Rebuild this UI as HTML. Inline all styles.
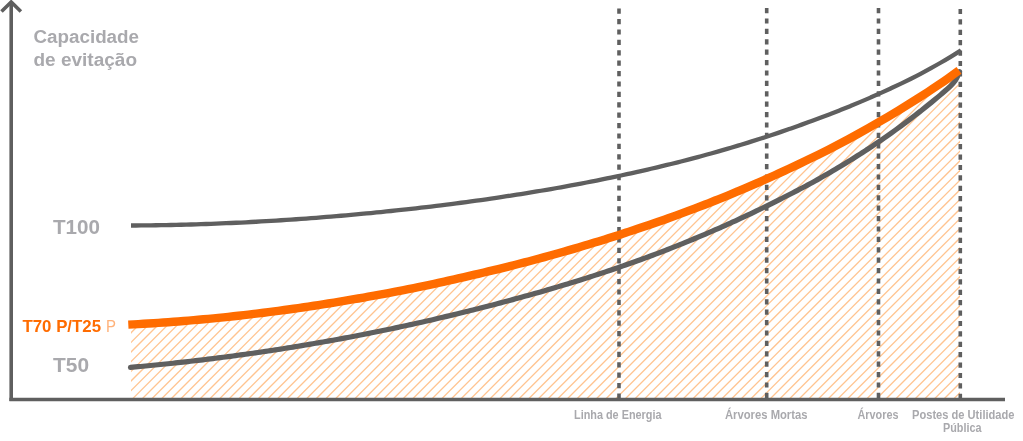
<!DOCTYPE html>
<html><head><meta charset="utf-8">
<style>
html,body{margin:0;padding:0;background:#fff;width:1023px;height:441px;overflow:hidden}
svg{display:block}
.lab{font-family:"Liberation Sans",sans-serif;font-weight:bold;fill:#a9a9ad}
</style></head><body>
<svg width="1023" height="441" viewBox="0 0 1023 441">
<defs>
<clipPath id="under"><path d="M131.00,324.47 C134.33,324.31 137.67,324.13 141.00,323.94 C144.33,323.76 147.67,323.56 151.00,323.36 C154.33,323.15 157.67,322.93 161.00,322.70 C164.33,322.48 167.67,322.24 171.00,321.99 C174.33,321.75 177.67,321.49 181.00,321.22 C184.33,320.96 187.67,320.68 191.00,320.40 C194.33,320.11 197.67,319.82 201.00,319.52 C204.33,319.21 207.67,318.90 211.00,318.58 C214.33,318.26 217.67,317.93 221.00,317.59 C224.33,317.25 227.67,316.90 231.00,316.54 C234.33,316.18 237.67,315.81 241.00,315.43 C244.33,315.06 247.67,314.67 251.00,314.27 C254.33,313.88 257.67,313.47 261.00,313.06 C264.33,312.64 267.67,312.22 271.00,311.79 C274.33,311.36 277.67,310.92 281.00,310.47 C284.33,310.02 287.67,309.57 291.00,309.10 C294.33,308.63 297.67,308.16 301.00,307.68 C304.33,307.19 307.67,306.70 311.00,306.20 C314.33,305.70 317.67,305.19 321.00,304.67 C324.33,304.15 327.67,303.62 331.00,303.08 C334.33,302.54 337.67,302.00 341.00,301.44 C344.33,300.89 347.67,300.32 351.00,299.75 C354.33,299.18 357.67,298.60 361.00,298.01 C364.33,297.43 367.67,296.83 371.00,296.23 C374.33,295.62 377.67,295.01 381.00,294.39 C384.33,293.77 387.67,293.14 391.00,292.51 C394.33,291.87 397.67,291.23 401.00,290.57 C404.33,289.92 407.67,289.26 411.00,288.59 C414.33,287.92 417.67,287.24 421.00,286.55 C424.33,285.86 427.67,285.16 431.00,284.45 C434.33,283.74 437.67,283.02 441.00,282.29 C444.33,281.57 447.67,280.83 451.00,280.09 C454.33,279.34 457.67,278.59 461.00,277.83 C464.33,277.07 467.67,276.30 471.00,275.52 C474.33,274.75 477.67,273.96 481.00,273.18 C484.33,272.39 487.67,271.60 491.00,270.81 C494.33,270.02 497.67,269.22 501.00,268.40 C504.33,267.59 507.67,266.76 511.00,265.92 C514.33,265.07 517.67,264.22 521.00,263.35 C524.33,262.49 527.67,261.61 531.00,260.72 C534.33,259.84 537.67,258.94 541.00,258.03 C544.33,257.13 547.67,256.21 551.00,255.28 C554.33,254.36 557.67,253.42 561.00,252.47 C564.33,251.52 567.67,250.57 571.00,249.60 C574.33,248.63 577.67,247.65 581.00,246.66 C584.33,245.67 587.67,244.67 591.00,243.66 C594.33,242.65 597.67,241.62 601.00,240.59 C604.33,239.56 607.67,238.51 611.00,237.46 C614.33,236.40 617.67,235.34 621.00,234.26 C624.33,233.18 627.67,232.09 631.00,231.00 C634.33,229.90 637.67,228.80 641.00,227.69 C644.33,226.58 647.67,225.46 651.00,224.33 C654.33,223.19 657.67,222.04 661.00,220.86 C664.33,219.69 667.67,218.50 671.00,217.30 C674.33,216.10 677.67,214.88 681.00,213.66 C684.33,212.43 687.67,211.19 691.00,209.93 C694.33,208.68 697.67,207.41 701.00,206.12 C704.33,204.84 707.67,203.54 711.00,202.23 C714.33,200.91 717.67,199.59 721.00,198.24 C724.33,196.90 727.67,195.54 731.00,194.17 C734.33,192.80 737.67,191.41 741.00,190.01 C744.33,188.60 747.67,187.18 751.00,185.75 C754.33,184.31 757.67,182.86 761.00,181.39 C764.33,179.92 767.67,178.43 771.00,176.93 C774.33,175.43 777.67,173.92 781.00,172.39 C784.33,170.87 787.67,169.33 791.00,167.77 C794.33,166.21 797.67,164.63 801.00,163.04 C804.33,161.45 807.67,159.84 811.00,158.22 C814.33,156.60 817.67,154.96 821.00,153.30 C824.33,151.64 827.67,149.97 831.00,148.27 C834.33,146.57 837.67,144.85 841.00,143.10 C844.33,141.35 847.67,139.57 851.00,137.76 C854.33,135.96 857.67,134.12 861.00,132.26 C864.33,130.41 867.67,128.52 871.00,126.62 C874.33,124.71 877.67,122.79 881.00,120.84 C884.33,118.90 887.67,116.94 891.00,114.95 C894.33,112.96 897.67,110.95 901.00,108.92 C904.33,106.89 907.67,104.83 911.00,102.75 C914.33,100.66 917.67,98.56 921.00,96.42 C924.33,94.29 927.67,92.13 931.00,89.94 C934.33,87.75 937.67,85.54 941.00,83.28 C944.33,81.02 947.67,78.67 951.00,76.28 C953.67,74.36 956.33,72.40 959.00,70.43 L960,70.43 L960,399.5 L131,399.5 Z"/></clipPath>
</defs>
<g clip-path="url(#under)" stroke="#ffc490" stroke-width="1.3">
<line x1="-235.81" y1="400" x2="124.19" y2="40"/>
<line x1="-226.14" y1="400" x2="133.86" y2="40"/>
<line x1="-216.48" y1="400" x2="143.52" y2="40"/>
<line x1="-206.82" y1="400" x2="153.18" y2="40"/>
<line x1="-197.16" y1="400" x2="162.84" y2="40"/>
<line x1="-187.50" y1="400" x2="172.50" y2="40"/>
<line x1="-177.83" y1="400" x2="182.17" y2="40"/>
<line x1="-168.17" y1="400" x2="191.83" y2="40"/>
<line x1="-158.51" y1="400" x2="201.49" y2="40"/>
<line x1="-148.85" y1="400" x2="211.15" y2="40"/>
<line x1="-139.19" y1="400" x2="220.81" y2="40"/>
<line x1="-129.52" y1="400" x2="230.48" y2="40"/>
<line x1="-119.86" y1="400" x2="240.14" y2="40"/>
<line x1="-110.20" y1="400" x2="249.80" y2="40"/>
<line x1="-100.54" y1="400" x2="259.46" y2="40"/>
<line x1="-90.88" y1="400" x2="269.12" y2="40"/>
<line x1="-81.21" y1="400" x2="278.79" y2="40"/>
<line x1="-71.55" y1="400" x2="288.45" y2="40"/>
<line x1="-61.89" y1="400" x2="298.11" y2="40"/>
<line x1="-52.23" y1="400" x2="307.77" y2="40"/>
<line x1="-42.57" y1="400" x2="317.43" y2="40"/>
<line x1="-32.90" y1="400" x2="327.10" y2="40"/>
<line x1="-23.24" y1="400" x2="336.76" y2="40"/>
<line x1="-13.58" y1="400" x2="346.42" y2="40"/>
<line x1="-3.92" y1="400" x2="356.08" y2="40"/>
<line x1="5.74" y1="400" x2="365.74" y2="40"/>
<line x1="15.41" y1="400" x2="375.41" y2="40"/>
<line x1="25.07" y1="400" x2="385.07" y2="40"/>
<line x1="34.73" y1="400" x2="394.73" y2="40"/>
<line x1="44.39" y1="400" x2="404.39" y2="40"/>
<line x1="54.05" y1="400" x2="414.05" y2="40"/>
<line x1="63.72" y1="400" x2="423.72" y2="40"/>
<line x1="73.38" y1="400" x2="433.38" y2="40"/>
<line x1="83.04" y1="400" x2="443.04" y2="40"/>
<line x1="92.70" y1="400" x2="452.70" y2="40"/>
<line x1="102.36" y1="400" x2="462.36" y2="40"/>
<line x1="112.03" y1="400" x2="472.03" y2="40"/>
<line x1="121.69" y1="400" x2="481.69" y2="40"/>
<line x1="131.35" y1="400" x2="491.35" y2="40"/>
<line x1="141.01" y1="400" x2="501.01" y2="40"/>
<line x1="150.67" y1="400" x2="510.67" y2="40"/>
<line x1="160.34" y1="400" x2="520.34" y2="40"/>
<line x1="170.00" y1="400" x2="530.00" y2="40"/>
<line x1="179.66" y1="400" x2="539.66" y2="40"/>
<line x1="189.32" y1="400" x2="549.32" y2="40"/>
<line x1="198.98" y1="400" x2="558.98" y2="40"/>
<line x1="208.65" y1="400" x2="568.65" y2="40"/>
<line x1="218.31" y1="400" x2="578.31" y2="40"/>
<line x1="227.97" y1="400" x2="587.97" y2="40"/>
<line x1="237.63" y1="400" x2="597.63" y2="40"/>
<line x1="247.29" y1="400" x2="607.29" y2="40"/>
<line x1="256.96" y1="400" x2="616.96" y2="40"/>
<line x1="266.62" y1="400" x2="626.62" y2="40"/>
<line x1="276.28" y1="400" x2="636.28" y2="40"/>
<line x1="285.94" y1="400" x2="645.94" y2="40"/>
<line x1="295.60" y1="400" x2="655.60" y2="40"/>
<line x1="305.27" y1="400" x2="665.27" y2="40"/>
<line x1="314.93" y1="400" x2="674.93" y2="40"/>
<line x1="324.59" y1="400" x2="684.59" y2="40"/>
<line x1="334.25" y1="400" x2="694.25" y2="40"/>
<line x1="343.91" y1="400" x2="703.91" y2="40"/>
<line x1="353.58" y1="400" x2="713.58" y2="40"/>
<line x1="363.24" y1="400" x2="723.24" y2="40"/>
<line x1="372.90" y1="400" x2="732.90" y2="40"/>
<line x1="382.56" y1="400" x2="742.56" y2="40"/>
<line x1="392.22" y1="400" x2="752.22" y2="40"/>
<line x1="401.89" y1="400" x2="761.89" y2="40"/>
<line x1="411.55" y1="400" x2="771.55" y2="40"/>
<line x1="421.21" y1="400" x2="781.21" y2="40"/>
<line x1="430.87" y1="400" x2="790.87" y2="40"/>
<line x1="440.53" y1="400" x2="800.53" y2="40"/>
<line x1="450.20" y1="400" x2="810.20" y2="40"/>
<line x1="459.86" y1="400" x2="819.86" y2="40"/>
<line x1="469.52" y1="400" x2="829.52" y2="40"/>
<line x1="479.18" y1="400" x2="839.18" y2="40"/>
<line x1="488.84" y1="400" x2="848.84" y2="40"/>
<line x1="498.51" y1="400" x2="858.51" y2="40"/>
<line x1="508.17" y1="400" x2="868.17" y2="40"/>
<line x1="517.83" y1="400" x2="877.83" y2="40"/>
<line x1="527.49" y1="400" x2="887.49" y2="40"/>
<line x1="537.15" y1="400" x2="897.15" y2="40"/>
<line x1="546.82" y1="400" x2="906.82" y2="40"/>
<line x1="556.48" y1="400" x2="916.48" y2="40"/>
<line x1="566.14" y1="400" x2="926.14" y2="40"/>
<line x1="575.80" y1="400" x2="935.80" y2="40"/>
<line x1="585.46" y1="400" x2="945.46" y2="40"/>
<line x1="595.13" y1="400" x2="955.13" y2="40"/>
<line x1="604.79" y1="400" x2="964.79" y2="40"/>
<line x1="614.45" y1="400" x2="974.45" y2="40"/>
<line x1="624.11" y1="400" x2="984.11" y2="40"/>
<line x1="633.77" y1="400" x2="993.77" y2="40"/>
<line x1="643.44" y1="400" x2="1003.44" y2="40"/>
<line x1="653.10" y1="400" x2="1013.10" y2="40"/>
<line x1="662.76" y1="400" x2="1022.76" y2="40"/>
<line x1="672.42" y1="400" x2="1032.42" y2="40"/>
<line x1="682.08" y1="400" x2="1042.08" y2="40"/>
<line x1="691.75" y1="400" x2="1051.75" y2="40"/>
<line x1="701.41" y1="400" x2="1061.41" y2="40"/>
<line x1="711.07" y1="400" x2="1071.07" y2="40"/>
<line x1="720.73" y1="400" x2="1080.73" y2="40"/>
<line x1="730.39" y1="400" x2="1090.39" y2="40"/>
<line x1="740.06" y1="400" x2="1100.06" y2="40"/>
<line x1="749.72" y1="400" x2="1109.72" y2="40"/>
<line x1="759.38" y1="400" x2="1119.38" y2="40"/>
<line x1="769.04" y1="400" x2="1129.04" y2="40"/>
<line x1="778.70" y1="400" x2="1138.70" y2="40"/>
<line x1="788.37" y1="400" x2="1148.37" y2="40"/>
<line x1="798.03" y1="400" x2="1158.03" y2="40"/>
<line x1="807.69" y1="400" x2="1167.69" y2="40"/>
<line x1="817.35" y1="400" x2="1177.35" y2="40"/>
<line x1="827.01" y1="400" x2="1187.01" y2="40"/>
<line x1="836.68" y1="400" x2="1196.68" y2="40"/>
<line x1="846.34" y1="400" x2="1206.34" y2="40"/>
<line x1="856.00" y1="400" x2="1216.00" y2="40"/>
<line x1="865.66" y1="400" x2="1225.66" y2="40"/>
<line x1="875.32" y1="400" x2="1235.32" y2="40"/>
<line x1="884.99" y1="400" x2="1244.99" y2="40"/>
<line x1="894.65" y1="400" x2="1254.65" y2="40"/>
<line x1="904.31" y1="400" x2="1264.31" y2="40"/>
<line x1="913.97" y1="400" x2="1273.97" y2="40"/>
<line x1="923.63" y1="400" x2="1283.63" y2="40"/>
<line x1="933.30" y1="400" x2="1293.30" y2="40"/>
<line x1="942.96" y1="400" x2="1302.96" y2="40"/>
<line x1="952.62" y1="400" x2="1312.62" y2="40"/>
<line x1="962.28" y1="400" x2="1322.28" y2="40"/>
</g>
<g stroke="#5f5f5f" stroke-width="3.6" fill="none">
<line x1="11.2" y1="2" x2="11.2" y2="401"/>
<polyline points="1.5,11.5 11.2,2 20.9,11.5"/>
<line x1="9.4" y1="399.55" x2="1005" y2="399.55"/>
<g stroke-dasharray="5.2 5.2">
<line x1="619" y1="8.6" x2="619" y2="399"/>
<line x1="766.7" y1="8" x2="766.7" y2="399"/>
<line x1="878.5" y1="8" x2="878.5" y2="399"/>
<line x1="960.3" y1="8.9" x2="960.3" y2="399"/>
</g>
</g>
<path d="M131.00,225.50 C134.33,225.49 137.67,225.47 141.00,225.44 C144.33,225.42 147.67,225.38 151.00,225.34 C154.33,225.30 157.67,225.25 161.00,225.19 C164.33,225.14 167.67,225.07 171.00,225.00 C174.33,224.93 177.67,224.86 181.00,224.77 C184.33,224.69 187.67,224.60 191.00,224.50 C194.33,224.40 197.67,224.29 201.00,224.18 C204.33,224.07 207.67,223.95 211.00,223.83 C214.33,223.70 217.67,223.57 221.00,223.43 C224.33,223.29 227.67,223.15 231.00,223.00 C234.33,222.85 237.67,222.69 241.00,222.53 C244.33,222.36 247.67,222.19 251.00,222.02 C254.33,221.84 257.67,221.66 261.00,221.47 C264.33,221.28 267.67,221.08 271.00,220.88 C274.33,220.68 277.67,220.47 281.00,220.26 C284.33,220.05 287.67,219.83 291.00,219.60 C294.33,219.38 297.67,219.14 301.00,218.91 C304.33,218.67 307.67,218.43 311.00,218.18 C314.33,217.93 317.67,217.67 321.00,217.41 C324.33,217.15 327.67,216.88 331.00,216.60 C334.33,216.33 337.67,216.05 341.00,215.76 C344.33,215.48 347.67,215.18 351.00,214.89 C354.33,214.59 357.67,214.28 361.00,213.97 C364.33,213.66 367.67,213.35 371.00,213.02 C374.33,212.70 377.67,212.37 381.00,212.03 C384.33,211.70 387.67,211.36 391.00,211.01 C394.33,210.66 397.67,210.31 401.00,209.95 C404.33,209.59 407.67,209.22 411.00,208.85 C414.33,208.47 417.67,208.09 421.00,207.71 C424.33,207.32 427.67,206.93 431.00,206.53 C434.33,206.13 437.67,205.72 441.00,205.31 C444.33,204.90 447.67,204.48 451.00,204.05 C454.33,203.62 457.67,203.19 461.00,202.75 C464.33,202.31 467.67,201.86 471.00,201.41 C474.33,200.95 477.67,200.49 481.00,200.02 C484.33,199.55 487.67,199.07 491.00,198.59 C494.33,198.11 497.67,197.61 501.00,197.12 C504.33,196.62 507.67,196.11 511.00,195.59 C514.33,195.08 517.67,194.56 521.00,194.03 C524.33,193.50 527.67,192.96 531.00,192.41 C534.33,191.87 537.67,191.31 541.00,190.75 C544.33,190.18 547.67,189.61 551.00,189.03 C554.33,188.45 557.67,187.86 561.00,187.26 C564.33,186.67 567.67,186.06 571.00,185.44 C574.33,184.83 577.67,184.20 581.00,183.57 C584.33,182.93 587.67,182.29 591.00,181.64 C594.33,180.98 597.67,180.32 601.00,179.65 C604.33,178.98 607.67,178.29 611.00,177.60 C614.33,176.91 617.67,176.20 621.00,175.49 C624.33,174.78 627.67,174.05 631.00,173.32 C634.33,172.58 637.67,171.84 641.00,171.08 C644.33,170.33 647.67,169.56 651.00,168.78 C654.33,168.00 657.67,167.21 661.00,166.41 C664.33,165.61 667.67,164.79 671.00,163.97 C674.33,163.14 677.67,162.31 681.00,161.46 C684.33,160.61 687.67,159.75 691.00,158.87 C694.33,158.00 697.67,157.11 701.00,156.21 C704.33,155.31 707.67,154.39 711.00,153.47 C714.33,152.54 717.67,151.60 721.00,150.64 C724.33,149.69 727.67,148.72 731.00,147.74 C734.33,146.76 737.67,145.76 741.00,144.75 C744.33,143.74 747.67,142.71 751.00,141.67 C754.33,140.63 757.67,139.58 761.00,138.50 C764.33,137.43 767.67,136.35 771.00,135.24 C774.33,134.14 777.67,133.02 781.00,131.89 C784.33,130.75 787.67,129.60 791.00,128.43 C794.33,127.27 797.67,126.08 801.00,124.88 C804.33,123.68 807.67,122.47 811.00,121.24 C814.33,120.02 817.67,118.78 821.00,117.53 C824.33,116.28 827.67,115.01 831.00,113.72 C834.33,112.44 837.67,111.13 841.00,109.81 C844.33,108.49 847.67,107.15 851.00,105.79 C854.33,104.42 857.67,103.04 861.00,101.63 C864.33,100.22 867.67,98.79 871.00,97.34 C874.33,95.88 877.67,94.40 881.00,92.89 C884.33,91.38 887.67,89.85 891.00,88.30 C894.33,86.75 897.67,85.18 901.00,83.58 C904.33,81.99 907.67,80.38 911.00,78.73 C914.33,77.08 917.67,75.36 921.00,73.59 C924.33,71.82 927.67,70.00 931.00,68.14 C934.33,66.29 937.67,64.41 941.00,62.49 C944.33,60.58 947.67,58.59 951.00,56.56 C954.33,54.53 957.67,52.45 961.00,50.33" stroke="#5f5f5f" stroke-width="4.3" fill="none"/>
<path d="M130.50,367.40 C132.17,367.25 133.83,367.10 135.50,366.94 C137.17,366.79 138.83,366.63 140.50,366.48 C142.17,366.32 143.83,366.16 145.50,366.00 C147.17,365.84 148.83,365.68 150.50,365.52 C152.17,365.36 153.83,365.19 155.50,365.02 C157.17,364.86 158.83,364.69 160.50,364.52 C162.17,364.35 163.83,364.18 165.50,364.00 C167.17,363.83 168.83,363.65 170.50,363.48 C172.17,363.30 173.83,363.12 175.50,362.94 C177.17,362.76 178.83,362.58 180.50,362.39 C182.17,362.21 183.83,362.02 185.50,361.83 C187.17,361.64 188.83,361.45 190.50,361.26 C192.17,361.07 193.83,360.88 195.50,360.68 C197.17,360.48 198.83,360.29 200.50,360.09 C202.17,359.89 203.83,359.69 205.50,359.48 C207.17,359.28 208.83,359.08 210.50,358.87 C212.17,358.66 213.83,358.45 215.50,358.24 C217.17,358.03 218.83,357.82 220.50,357.61 C222.17,357.39 223.83,357.18 225.50,356.96 C227.17,356.74 228.83,356.52 230.50,356.30 C232.17,356.08 233.83,355.85 235.50,355.63 C237.17,355.40 238.83,355.17 240.50,354.94 C242.17,354.71 243.83,354.48 245.50,354.25 C247.17,354.01 248.83,353.78 250.50,353.54 C252.17,353.30 253.83,353.07 255.50,352.82 C257.17,352.58 258.83,352.34 260.50,352.09 C262.17,351.85 263.83,351.60 265.50,351.35 C267.17,351.10 268.83,350.85 270.50,350.60 C272.17,350.35 273.83,350.09 275.50,349.84 C277.17,349.58 278.83,349.32 280.50,349.06 C282.17,348.80 283.83,348.54 285.50,348.27 C287.17,348.01 288.83,347.74 290.50,347.47 C292.17,347.20 293.83,346.93 295.50,346.66 C297.17,346.39 298.83,346.11 300.50,345.84 C302.17,345.56 303.83,345.28 305.50,345.00 C307.17,344.72 308.83,344.44 310.50,344.15 C312.17,343.87 313.83,343.58 315.50,343.29 C317.17,343.00 318.83,342.71 320.50,342.42 C322.17,342.13 323.83,341.83 325.50,341.54 C327.17,341.24 328.83,340.94 330.50,340.64 C332.17,340.34 333.83,340.04 335.50,339.74 C337.17,339.43 338.83,339.12 340.50,338.82 C342.17,338.51 343.83,338.20 345.50,337.88 C347.17,337.57 348.83,337.26 350.50,336.94 C352.17,336.62 353.83,336.30 355.50,335.98 C357.17,335.66 358.83,335.34 360.50,335.02 C362.17,334.69 363.83,334.36 365.50,334.04 C367.17,333.71 368.83,333.38 370.50,333.04 C372.17,332.71 373.83,332.37 375.50,332.04 C377.17,331.70 378.83,331.36 380.50,331.02 C382.17,330.68 383.83,330.34 385.50,329.99 C387.17,329.65 388.83,329.30 390.50,328.95 C392.17,328.60 393.83,328.25 395.50,327.89 C397.17,327.54 398.83,327.18 400.50,326.83 C402.17,326.47 403.83,326.11 405.50,325.75 C407.17,325.39 408.83,325.02 410.50,324.65 C412.17,324.29 413.83,323.92 415.50,323.55 C417.17,323.18 418.83,322.81 420.50,322.43 C422.17,322.06 423.83,321.68 425.50,321.30 C427.17,320.92 428.83,320.54 430.50,320.16 C432.17,319.78 433.83,319.39 435.50,319.00 C437.17,318.62 438.83,318.23 440.50,317.83 C442.17,317.44 443.83,317.05 445.50,316.65 C447.17,316.26 448.83,315.86 450.50,315.46 C452.17,315.06 453.83,314.65 455.50,314.25 C457.17,313.85 458.83,313.44 460.50,313.03 C462.17,312.63 463.83,312.22 465.50,311.81 C467.17,311.40 468.83,310.98 470.50,310.57 C472.17,310.15 473.83,309.74 475.50,309.32 C477.17,308.90 478.83,308.48 480.50,308.06 C482.17,307.64 483.83,307.21 485.50,306.78 C487.17,306.36 488.83,305.93 490.50,305.50 C492.17,305.07 493.83,304.64 495.50,304.20 C497.17,303.76 498.83,303.33 500.50,302.89 C502.17,302.45 503.83,302.01 505.50,301.56 C507.17,301.12 508.83,300.67 510.50,300.22 C512.17,299.77 513.83,299.32 515.50,298.86 C517.17,298.41 518.83,297.95 520.50,297.49 C522.17,297.03 523.83,296.57 525.50,296.11 C527.17,295.64 528.83,295.18 530.50,294.71 C532.17,294.24 533.83,293.77 535.50,293.30 C537.17,292.83 538.83,292.36 540.50,291.88 C542.17,291.40 543.83,290.92 545.50,290.44 C547.17,289.96 548.83,289.48 550.50,288.99 C552.17,288.50 553.83,288.01 555.50,287.52 C557.17,287.03 558.83,286.54 560.50,286.04 C562.17,285.54 563.83,285.04 565.50,284.54 C567.17,284.04 568.83,283.53 570.50,283.02 C572.17,282.51 573.83,282.00 575.50,281.49 C577.17,280.97 578.83,280.45 580.50,279.93 C582.17,279.41 583.83,278.89 585.50,278.36 C587.17,277.83 588.83,277.30 590.50,276.76 C592.17,276.23 593.83,275.69 595.50,275.15 C597.17,274.61 598.83,274.06 600.50,273.51 C602.17,272.96 603.83,272.41 605.50,271.86 C607.17,271.30 608.83,270.74 610.50,270.18 C612.17,269.62 613.83,269.06 615.50,268.49 C617.17,267.92 618.83,267.35 620.50,266.78 C622.17,266.20 623.83,265.62 625.50,265.04 C627.17,264.46 628.83,263.88 630.50,263.29 C632.17,262.70 633.83,262.11 635.50,261.51 C637.17,260.92 638.83,260.32 640.50,259.72 C642.17,259.11 643.83,258.51 645.50,257.90 C647.17,257.29 648.83,256.67 650.50,256.06 C652.17,255.44 653.83,254.82 655.50,254.19 C657.17,253.57 658.83,252.94 660.50,252.30 C662.17,251.67 663.83,251.03 665.50,250.38 C667.17,249.74 668.83,249.09 670.50,248.43 C672.17,247.77 673.83,247.11 675.50,246.45 C677.17,245.78 678.83,245.11 680.50,244.43 C682.17,243.76 683.83,243.08 685.50,242.39 C687.17,241.71 688.83,241.02 690.50,240.33 C692.17,239.64 693.83,238.95 695.50,238.25 C697.17,237.56 698.83,236.86 700.50,236.15 C702.17,235.45 703.83,234.74 705.50,234.03 C707.17,233.32 708.83,232.61 710.50,231.89 C712.17,231.17 713.83,230.44 715.50,229.71 C717.17,228.98 718.83,228.25 720.50,227.51 C722.17,226.78 723.83,226.04 725.50,225.29 C727.17,224.54 728.83,223.79 730.50,223.04 C732.17,222.29 733.83,221.53 735.50,220.77 C737.17,220.00 738.83,219.24 740.50,218.47 C742.17,217.70 743.83,216.92 745.50,216.14 C747.17,215.36 748.83,214.58 750.50,213.79 C752.17,213.00 753.83,212.21 755.50,211.41 C757.17,210.62 758.83,209.81 760.50,209.01 C762.17,208.20 763.83,207.39 765.50,206.57 C767.17,205.75 768.83,204.93 770.50,204.10 C772.17,203.28 773.83,202.44 775.50,201.60 C777.17,200.77 778.83,199.92 780.50,199.07 C782.17,198.23 783.83,197.38 785.50,196.53 C787.17,195.68 788.83,194.83 790.50,193.98 C792.17,193.12 793.83,192.27 795.50,191.41 C797.17,190.55 798.83,189.68 800.50,188.81 C802.17,187.94 803.83,187.06 805.50,186.18 C807.17,185.29 808.83,184.40 810.50,183.50 C812.17,182.59 813.83,181.68 815.50,180.76 C817.17,179.83 818.83,178.90 820.50,177.95 C822.17,177.01 823.83,176.06 825.50,175.10 C827.17,174.14 828.83,173.17 830.50,172.20 C832.17,171.22 833.83,170.24 835.50,169.25 C837.17,168.26 838.83,167.27 840.50,166.26 C842.17,165.26 843.83,164.24 845.50,163.22 C847.17,162.20 848.83,161.18 850.50,160.14 C852.17,159.10 853.83,158.06 855.50,157.01 C857.17,155.95 858.83,154.89 860.50,153.82 C862.17,152.75 863.83,151.67 865.50,150.59 C867.17,149.50 868.83,148.40 870.50,147.30 C872.17,146.19 873.83,145.08 875.50,143.95 C877.17,142.83 878.83,141.69 880.50,140.55 C882.17,139.41 883.83,138.25 885.50,137.09 C887.17,135.93 888.83,134.76 890.50,133.58 C892.17,132.40 893.83,131.21 895.50,130.01 C897.17,128.81 898.83,127.60 900.50,126.38 C902.17,125.16 903.83,123.92 905.50,122.67 C907.17,121.42 908.83,120.15 910.50,118.87 C912.17,117.60 913.83,116.31 915.50,115.02 C917.17,113.72 918.83,112.42 920.50,111.11 C922.17,109.80 923.83,108.48 925.50,107.15 C927.17,105.83 928.83,104.49 930.50,103.15 C932.17,101.80 933.83,100.44 935.50,99.06 C937.17,97.69 938.83,96.29 940.50,94.88 C942.17,93.47 943.83,92.04 945.50,90.57 C947.17,89.10 948.83,87.59 950.50,86.02 C952.17,84.44 953.83,82.65 955.50,80.29 C956.83,78.40 958.17,75.45 959.50,71.73" stroke="#5f5f5f" stroke-width="5.2" fill="none" stroke-linecap="round"/>
<path d="M128.30,324.60 C131.63,324.44 134.97,324.27 138.30,324.09 C141.63,323.91 144.97,323.72 148.30,323.52 C151.63,323.32 154.97,323.11 158.30,322.89 C161.63,322.66 164.97,322.43 168.30,322.19 C171.63,321.95 174.97,321.70 178.30,321.44 C181.63,321.18 184.97,320.91 188.30,320.63 C191.63,320.35 194.97,320.06 198.30,319.76 C201.63,319.46 204.97,319.15 208.30,318.84 C211.63,318.52 214.97,318.19 218.30,317.86 C221.63,317.52 224.97,317.18 228.30,316.83 C231.63,316.47 234.97,316.11 238.30,315.74 C241.63,315.37 244.97,314.98 248.30,314.59 C251.63,314.20 254.97,313.80 258.30,313.39 C261.63,312.98 264.97,312.56 268.30,312.14 C271.63,311.71 274.97,311.28 278.30,310.83 C281.63,310.39 284.97,309.94 288.30,309.47 C291.63,309.01 294.97,308.54 298.30,308.07 C301.63,307.59 304.97,307.10 308.30,306.60 C311.63,306.11 314.97,305.60 318.30,305.09 C321.63,304.57 324.97,304.05 328.30,303.51 C331.63,302.98 334.97,302.44 338.30,301.89 C341.63,301.34 344.97,300.78 348.30,300.21 C351.63,299.65 354.97,299.07 358.30,298.49 C361.63,297.91 364.97,297.31 368.30,296.72 C371.63,296.12 374.97,295.51 378.30,294.89 C381.63,294.28 384.97,293.65 388.30,293.02 C391.63,292.39 394.97,291.75 398.30,291.10 C401.63,290.45 404.97,289.79 408.30,289.13 C411.63,288.46 414.97,287.79 418.30,287.11 C421.63,286.42 424.97,285.73 428.30,285.02 C431.63,284.32 434.97,283.60 438.30,282.88 C441.63,282.16 444.97,281.43 448.30,280.69 C451.63,279.95 454.97,279.20 458.30,278.44 C461.63,277.69 464.97,276.92 468.30,276.15 C471.63,275.38 474.97,274.60 478.30,273.81 C481.63,273.03 484.97,272.24 488.30,271.45 C491.63,270.66 494.97,269.87 498.30,269.06 C501.63,268.25 504.97,267.44 508.30,266.60 C511.63,265.76 514.97,264.91 518.30,264.05 C521.63,263.19 524.97,262.32 528.30,261.44 C531.63,260.56 534.97,259.67 538.30,258.77 C541.63,257.87 544.97,256.95 548.30,256.03 C551.63,255.11 554.97,254.18 558.30,253.24 C561.63,252.30 564.97,251.34 568.30,250.38 C571.63,249.42 574.97,248.44 578.30,247.46 C581.63,246.47 584.97,245.48 588.30,244.47 C591.63,243.47 594.97,242.45 598.30,241.43 C601.63,240.40 604.97,239.36 608.30,238.31 C611.63,237.26 614.97,236.20 618.30,235.13 C621.63,234.06 624.97,232.98 628.30,231.88 C631.63,230.79 634.97,229.69 638.30,228.59 C641.63,227.48 644.97,226.37 648.30,225.24 C651.63,224.12 654.97,222.98 658.30,221.81 C661.63,220.65 664.97,219.46 668.30,218.27 C671.63,217.08 674.97,215.87 678.30,214.65 C681.63,213.43 684.97,212.19 688.30,210.94 C691.63,209.70 694.97,208.43 698.30,207.16 C701.63,205.88 704.97,204.59 708.30,203.29 C711.63,201.98 714.97,200.66 718.30,199.33 C721.63,197.99 724.97,196.65 728.30,195.28 C731.63,193.92 734.97,192.54 738.30,191.14 C741.63,189.74 744.97,188.33 748.30,186.91 C751.63,185.48 754.97,184.04 758.30,182.58 C761.63,181.12 764.97,179.64 768.30,178.15 C771.63,176.65 774.97,175.14 778.30,173.63 C781.63,172.11 784.97,170.57 788.30,169.03 C791.63,167.48 794.97,165.91 798.30,164.33 C801.63,162.74 804.97,161.14 808.30,159.53 C811.63,157.92 814.97,156.29 818.30,154.64 C821.63,152.99 824.97,151.33 828.30,149.64 C831.63,147.95 834.97,146.24 838.30,144.51 C841.63,142.77 844.97,141.01 848.30,139.22 C851.63,137.43 854.97,135.61 858.30,133.77 C861.63,131.92 864.97,130.05 868.30,128.16 C871.63,126.26 874.97,124.35 878.30,122.41 C881.63,120.48 884.97,118.53 888.30,116.55 C891.63,114.58 894.97,112.58 898.30,110.56 C901.63,108.54 904.97,106.50 908.30,104.43 C911.63,102.36 914.97,100.27 918.30,98.15 C921.63,96.03 924.97,93.88 928.30,91.71 C931.63,89.54 934.97,87.34 938.30,85.10 C941.63,82.87 944.97,80.57 948.30,78.21 C951.63,75.84 954.97,73.41 958.30,70.95 C958.53,70.78 958.77,70.60 959.00,70.43" stroke="#ff6c00" stroke-width="8.4" fill="none"/>
<g font-family="Liberation Sans, sans-serif" style="will-change:transform">
<text x="33.50" y="42.8" font-size="19.1" font-weight="bold" fill="#a9a9ad" textLength="105.50" lengthAdjust="spacingAndGlyphs">Capacidade</text>
<text x="33.50" y="65.5" font-size="19.1" font-weight="bold" fill="#a9a9ad" textLength="103.50" lengthAdjust="spacingAndGlyphs">de evitação</text>
<text x="53.00" y="234.0" font-size="20.6" font-weight="bold" fill="#a9a9ad" textLength="47.00" lengthAdjust="spacingAndGlyphs">T100</text>
<text x="53.00" y="371.9" font-size="20.3" font-weight="bold" fill="#a9a9ad" textLength="36.00" lengthAdjust="spacingAndGlyphs">T50</text>
<text x="22.50" y="331.5" font-size="16.1" font-weight="bold" fill="#ff6c00" textLength="78.50" lengthAdjust="spacingAndGlyphs">T70 P/T25</text>
<text x="106.00" y="331.5" font-size="16.1" font-weight="normal" fill="#ffb27a" textLength="10.00" lengthAdjust="spacingAndGlyphs">P</text>
<text x="574.00" y="418.7" font-size="12.3" font-weight="bold" fill="#a9a9ad" textLength="87.50" lengthAdjust="spacingAndGlyphs">Linha de Energia</text>
<text x="725.00" y="418.7" font-size="12.3" font-weight="bold" fill="#a9a9ad" textLength="82.50" lengthAdjust="spacingAndGlyphs">Árvores Mortas</text>
<text x="857.50" y="418.7" font-size="12.3" font-weight="bold" fill="#a9a9ad" textLength="41.00" lengthAdjust="spacingAndGlyphs">Árvores</text>
<text x="912.00" y="418.5" font-size="12.3" font-weight="bold" fill="#a9a9ad" textLength="102.50" lengthAdjust="spacingAndGlyphs">Postes de Utilidade</text>
<text x="943.00" y="431.8" font-size="12.3" font-weight="bold" fill="#a9a9ad" textLength="38.50" lengthAdjust="spacingAndGlyphs">Pública</text>
</g>
</svg>
</body></html>
